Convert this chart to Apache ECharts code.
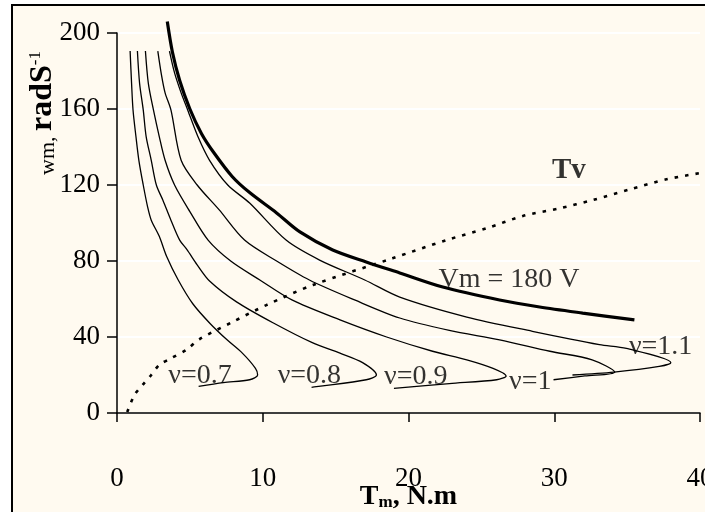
<!DOCTYPE html>
<html>
<head>
<meta charset="utf-8">
<script src="https://cdn.jsdelivr.net/npm/echarts@6/dist/echarts.min.js"></script>
<style>
  html, body { margin: 0; padding: 0; background: #fff; }
  #main { width: 705px; height: 512px; }
</style>
</head>
<body>
<div id="main"></div>
<script>
// axis ticks
var xTicks = [0, 40, 10];   // min, max, step
var yTicks = [0, 200, 40];

// speed-torque curves, [T, w]
var vm180 = [[3.45,206],[3.8,190],[4.3,175],[5.0,160],[5.8,147],[6.6,137.5],[7.9,124.5],[9.1,116],
  [10.95,105.3],[12.55,95.3],[14.8,85.8],[17.1,79.5],[19.4,73.7],[22.35,66.3],[26.25,59.5],
  [29.0,55.8],[31.95,52.6],[35.5,49]];

var nu07 = [[0.9,190.5],[1.0,173.5],[1.1,159.5],[1.3,145.5],[1.5,133],[1.8,120],[2.1,108.5],
  [2.35,101.5],[2.9,93],[3.4,82.5],[4.2,70],[5.2,57.5],[6.4,47],[7.55,38.5],[8.6,31.5],
  [9.5,23.5],[9.65,20],[9.1,17.5],[7.3,16],[5.6,14]];

var nu08 = [[1.4,190.5],[1.55,173.5],[1.8,159.5],[2.0,145.5],[2.35,133],[2.7,120],[3.15,112],
  [3.7,101.5],[4.3,91],[4.8,86],[5.5,78],[6.35,69.5],[8.2,58.5],[10.7,47.5],[13.4,37],
  [15.3,31.5],[16.85,26.5],[17.8,20],[17.1,17.5],[13.35,13.5]];

var nu09 = [[1.95,190.5],[2.15,173.5],[2.5,159.5],[2.9,145.5],[3.3,133],[3.95,120],[5.0,106],
  [6.25,91],[7.8,80],[9.8,70],[12.0,59.5],[15.3,49],[18.5,40],[21.65,32.5],[24.0,28],
  [25.8,23.5],[26.7,19.5],[26.05,17.5],[22.8,15.5],[19.0,13]];

var nu10 = [[2.8,190.5],[3.05,178],[3.3,168.5],[3.7,159.5],[4.4,133],[5.5,120],[7.0,107],
  [8.75,91],[10.95,80],[13.2,70],[16.3,59.5],[19.4,50],[22.8,43.5],[26.25,38.5],[29.7,32.5],
  [32.6,28],[34.15,21.5],[32.1,19.5],[29.95,17.5]];

var nu11 = [[3.6,190.5],[3.95,179],[4.4,168.5],[4.85,159.5],[5.55,145.5],[6.35,133],[7.6,120],
  [9.1,110.5],[11.6,91],[13.9,80.5],[17.0,70],[19.4,61],[24.0,50.5],[28.5,43],[33.1,36],
  [34.95,34],[38.0,26.5],[37.2,24.5],[34.1,21.5],[31.25,20]];

// load torque Tv
var tv = [[0.7,0.5],[1.2,9.5],[1.75,14.7],[2.35,20],[2.9,25.3],[3.7,28.8],[4.75,33.2],[5.65,38.8],
  [7.95,48],[10.25,56.8],[13.45,67.4],[18.9,81.4],[22.6,91],[25.35,97.2],[27.85,103.7],
  [30.35,107.7],[32.65,112.1],[35.2,117.7],[37.7,123],[40.2,126.5]];

// text labels on the plot: text, T, w
var notes = [
  ['ν=0.7', 5.7, 19.5],
  ['ν=0.8', 13.2, 19.5],
  ['ν=0.9', 20.5, 18.9],
  ['ν=1', 28.35, 16.3],
  ['ν=1.1', 37.3, 34.9],
  ['Vm = 180 V', 26.9, 70]
];
var tvNote = ['Tv', 31.0, 127.4];

var serif = 'Liberation Serif, Times New Roman, serif';
var myChart = echarts.init(document.getElementById('main'));

let thin = (d) => ({
  type: 'line', data: d, symbol: 'none', smooth: 0.3, clip: false,
  lineStyle: { color: '#000', width: 1.3 }
});

var option = {
  animation: false,
  backgroundColor: '#fff',
  textStyle: { fontFamily: serif },
  grid: { left: 117, right: 5, top: 33, bottom: 99, outerBoundsMode: 'none' },
  graphic: [
    {
      type: 'rect', z: -10, silent: true,
      shape: { x: 12, y: 5, width: 720, height: 530 },
      style: { fill: '#fffaf0', stroke: '#000', lineWidth: 2 }
    },
    {
      type: 'text', x: 59, y: 113, rotation: Math.PI / 2, z: 10,
      style: {
        text: '{a|wm, }{b|radS}{c|-1}',
        align: 'center', verticalAlign: 'bottom',
        rich: {
          a: { fontFamily: serif, fontSize: 22, lineHeight: 32, verticalAlign: 'bottom', fill: '#000' },
          b: { fontFamily: serif, fontSize: 32, fontWeight: 'bold', lineHeight: 32, fill: '#000' },
          c: { fontFamily: serif, fontSize: 17, lineHeight: 32, verticalAlign: 'top', fill: '#000' }
        }
      }
    }
  ],
  xAxis: {
    type: 'value', min: xTicks[0], max: xTicks[1], interval: xTicks[2],
    name: '{b|T}{s|m}{b|, N.m}', nameLocation: 'middle', nameGap: 70, nameMoveOverlap: false,
    nameTextStyle: {
      rich: {
        b: { fontFamily: serif, fontSize: 28, fontWeight: 'bold', lineHeight: 28, color: '#000' },
        s: { fontFamily: serif, fontSize: 17, fontWeight: 'bold', lineHeight: 22, verticalAlign: 'bottom', color: '#000' }
      }
    },
    axisLine: { lineStyle: { color: '#000', width: 1.5 } },
    axisTick: { length: 9, lineStyle: { color: '#000', width: 1.5 } },
    axisLabel: { color: '#000', fontSize: 27, fontFamily: serif, margin: 52 },
    splitLine: { show: false }
  },
  yAxis: {
    type: 'value', min: yTicks[0], max: yTicks[1], interval: yTicks[2],
    axisLine: { show: true, lineStyle: { color: '#000', width: 1.5 } },
    axisTick: { show: true, length: 10, lineStyle: { color: '#000', width: 1.5 } },
    axisLabel: { color: '#000', fontSize: 27, fontFamily: serif, margin: 17 },
    splitLine: { show: true, lineStyle: { color: '#ffffff', width: 2 } }
  },
  series: [
    {
      type: 'line', data: vm180, symbol: 'none', smooth: 0.3, clip: false,
      lineStyle: { color: '#000', width: 3.2 }
    },
    thin(nu07), thin(nu08), thin(nu09), thin(nu10), thin(nu11),
    {
      type: 'line', data: tv, symbol: 'none', smooth: 0.3, clip: false,
      lineStyle: { color: '#000', width: 2.6, type: [3.5, 7], cap: 'butt' }
    },
    {
      type: 'scatter', symbolSize: 1, itemStyle: { color: 'rgba(0,0,0,0)' }, clip: false, z: 5,
      data: notes.map((n) => ({ name: n[0], value: [n[1], n[2]] })).concat([{
        name: tvNote[0], value: [tvNote[1], tvNote[2]],
        label: { fontWeight: 'bold', fontSize: 29 }
      }]),
      label: {
        show: true, position: 'inside', formatter: '{b}',
        color: '#000', fontSize: 28, fontFamily: serif
      }
    }
  ]
};

myChart.setOption(option);
</script>
</body>
</html>
